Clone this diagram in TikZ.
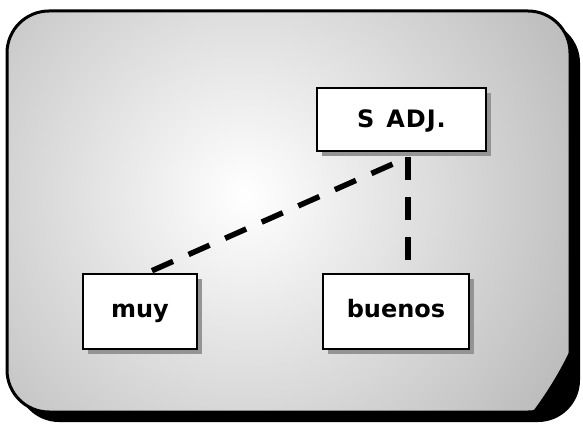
\documentclass[tikz,border=0pt]{standalone}
\usepackage{fontspec}
\setmainfont{DejaVu Sans}
\usetikzlibrary{calc}
\begin{document}
\begin{tikzpicture}[x=1pt,y=-1pt,
  wordbox/.style={draw=black, line width=2.6pt, fill=white, minimum height=63pt,
    font=\bfseries\fontsize{24}{27}\selectfont, inner sep=0pt, text height=12pt, text depth=0pt},
  boxshadow/.style={fill=black!42},
  link/.style={line width=5.5pt, dash pattern=on 23pt off 17pt}]
\useasboundingbox (0,0) rectangle (583,427);
% frame shadow and frame
\fill[black, rounded corners=42pt] (17,21) rectangle (580,422);
\begin{scope}
  \clip[rounded corners=42pt] (7,11) rectangle (570,412);
  \shade[inner color=white, outer color=black!26] (245,195) circle (360);
\end{scope}
\draw[line width=3pt, rounded corners=42pt] (7,11) rectangle (570,412);
% shadows of boxes
\fill[boxshadow] (322,93) rectangle (491,156);
\fill[boxshadow] (88,279) rectangle (202,354);
\fill[boxshadow] (328,279) rectangle (474,354);
% boxes
\node[wordbox, minimum width=169pt, text height=17pt] (sadj) at (401.5,119.5) {\addfontfeature{LetterSpace=4}S\hspace{12pt}ADJ.};
\node[wordbox, minimum width=114pt, minimum height=75pt] (muy) at (140,311.5) {muy};
\node[wordbox, minimum width=146pt, minimum height=75pt] (buenos) at (396,311.5) {buenos};
% connectors
\coordinate (j) at ($(sadj.south)+(6.5,5)$);
\coordinate (e) at ($(buenos.north)+(12,-10)$);
\draw[link] ($(muy.north)+(12,-2)$) -- (j);
\draw[link] (j) -- (e);
\end{tikzpicture}
\end{document}
